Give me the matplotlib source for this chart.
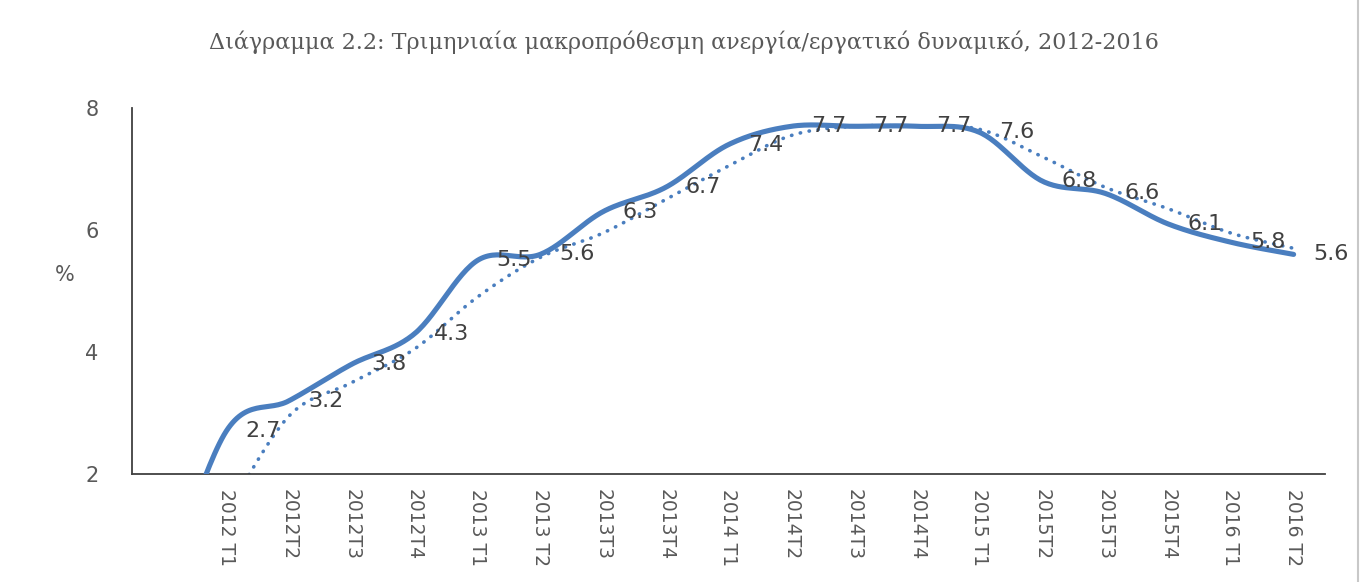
import numpy as np
import matplotlib
matplotlib.use("Agg")
import matplotlib.pyplot as plt

# hidden leading category carries a zero value (clipped by the y-axis minimum)
categories = ["", "2012 T1", "2012T2", "2012T3", "2012T4", "2013 T1", "2013 T2",
              "2013T3", "2013T4", "2014 T1", "2014T2", "2014T3", "2014T4",
              "2015 T1", "2015T2", "2015T3", "2015T4", "2016 T1", "2016 T2"]
unemployment = [0.0, 2.7, 3.2, 3.8, 4.3, 5.5, 5.6, 6.3, 6.7, 7.4, 7.7, 7.7, 7.7,
                7.6, 6.8, 6.6, 6.1, 5.8, 5.6]
# 2-period moving average trendline
moving_avg = [np.nan, 1.35, 2.95, 3.5, 4.05, 4.9, 5.55, 5.95, 6.5, 7.05, 7.55,
              7.7, 7.7, 7.65, 7.2, 6.7, 6.35, 5.95, 5.7]
y_ticks = [2, 4, 6, 8]

title = "Διάγραμμα 2.2: Τριμηνιαία μακροπρόθεσμη ανεργία/εργατικό δυναμικό, 2012-2016"
BLUE = "#4a7ebf"
GREY = "#595959"


def smooth(x, y, n=30):
    # Excel-style smoothed line: cubic Bezier through points, Catmull-Rom tangents
    x = np.asarray(x, float)
    y = np.asarray(y, float)
    xs, ys = [], []
    t = np.linspace(0, 1, n)
    for i in range(len(x) - 1):
        p0 = np.array([x[max(i - 1, 0)], y[max(i - 1, 0)]])
        p1 = np.array([x[i], y[i]])
        p2 = np.array([x[i + 1], y[i + 1]])
        p3 = np.array([x[min(i + 2, len(x) - 1)], y[min(i + 2, len(x) - 1)]])
        c1 = p1 + (p2 - p0) / 6
        c2 = p2 - (p3 - p1) / 6
        seg = (((1 - t) ** 3)[:, None] * p1 + (3 * (1 - t) ** 2 * t)[:, None] * c1
               + (3 * (1 - t) * t ** 2)[:, None] * c2 + (t ** 3)[:, None] * p2)
        xs.extend(seg[:, 0])
        ys.extend(seg[:, 1])
    return np.array(xs), np.array(ys)


fig = plt.figure(figsize=(13.61, 5.82), dpi=100)
ax = fig.add_axes([132 / 1361, 1 - 474 / 582, (1325 - 132) / 1361, (474 - 108) / 582])

pos = np.arange(len(categories)) - 1

sx, sy = smooth(pos, unemployment)
ax.plot(sx, sy, color=BLUE, lw=3.7, solid_capstyle="round", zorder=3)

ma = np.array(moving_avg)
ok = ~np.isnan(ma)
mx, my = smooth(pos[ok], ma[ok])
ax.plot(mx, my, color=BLUE, lw=2.6, linestyle=(0, (0.1, 2.4)),
        dash_capstyle="round", zorder=2)

for p, v in zip(pos, unemployment):
    if v < 2:
        continue
    ax.annotate(f"{v:.1f}", (p, v), xytext=(14, 0), textcoords="offset points",
                ha="left", va="center", fontsize=16, color="#404040", zorder=4)

ax.set_xlim(-1.5, 17.5)
ax.set_ylim(2, 8)
ax.set_yticks(y_ticks)
ax.set_yticklabels([str(t) for t in y_ticks], fontsize=15, color=GREY)
ax.set_xticks(pos[1:])
ax.set_xticklabels(categories[1:], rotation=270, fontsize=13.5, color=GREY)
ax.tick_params(axis="both", length=0)
ax.tick_params(axis="x", pad=11)
ax.tick_params(axis="y", pad=24)

for side in ["top", "right"]:
    ax.spines[side].set_visible(False)
for side in ["left", "bottom"]:
    ax.spines[side].set_color("#404040")
    ax.spines[side].set_linewidth(1.3)

fig.text(65 / 1361, 1 - 275 / 582, "%", fontsize=15, color=GREY, ha="center", va="center")
fig.text(684 / 1361, 1 - 42 / 582, title, fontsize=16, color=GREY, ha="center",
         va="center", family="DejaVu Serif")

fig.add_artist(plt.Line2D([1358 / 1361, 1358 / 1361], [0, 1], color="#c8c8c8", lw=1.5))

fig.savefig("out.png", dpi=100)
